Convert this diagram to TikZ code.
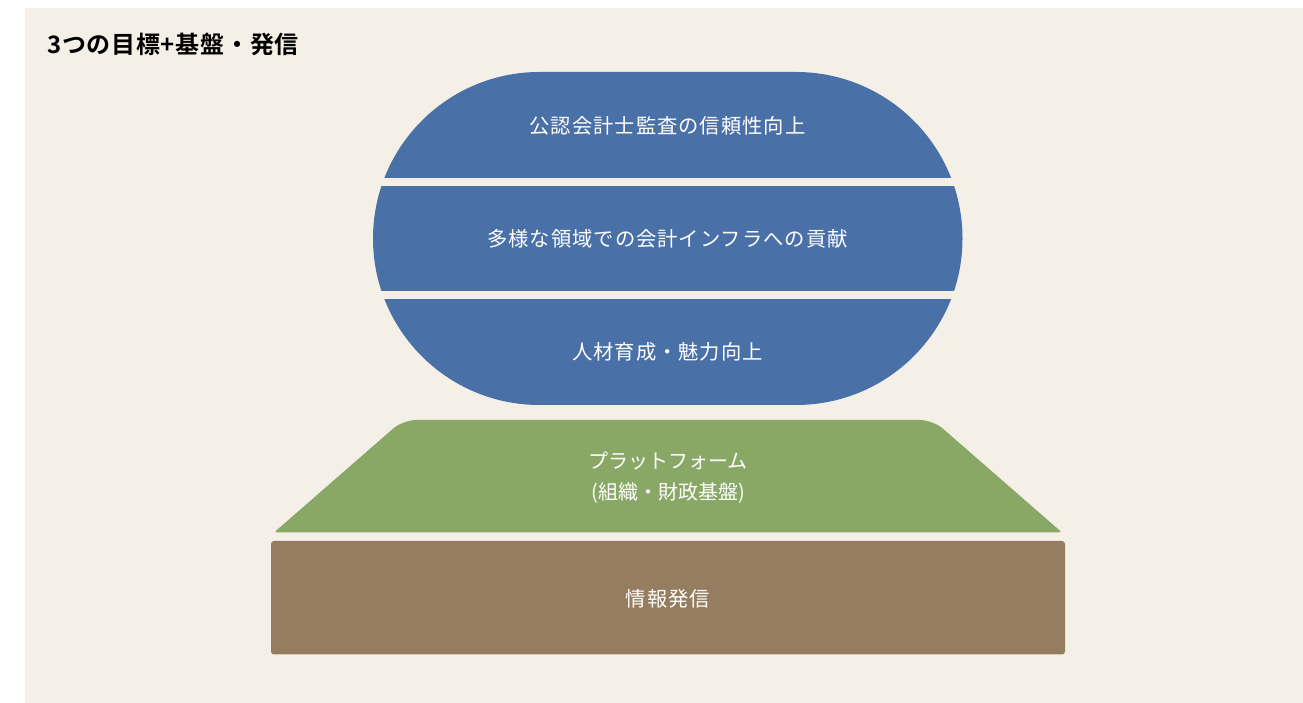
\documentclass[tikz,border=0pt]{standalone}
\usepackage{fontspec}
\newfontfamily\jp{Noto Sans CJK JP}
\newfontfamily\jpsp[LetterSpace=5]{Noto Sans CJK JP}
\newfontfamily\jpbold[LetterSpace=3]{Noto Sans CJK JP Bold}
\definecolor{panelbg}{RGB}{244,240,232}
\definecolor{goalblue}{RGB}{74,112,168}
\definecolor{platgreen}{RGB}{137,168,102}
\definecolor{infobrown}{RGB}{150,125,96}
\tikzset{
  banner/.style={text=white, font=\jpsp\fontsize{20.3}{24}\selectfont, inner sep=0pt, anchor=center},
  platlabel/.style={text=white, font=\jp\fontsize{20}{24}\selectfont, inner sep=0pt, anchor=center},
  heading/.style={text=black, font=\jpbold\fontsize{24}{28}\selectfont, inner sep=0pt, anchor=west}
}
\begin{document}
\begin{tikzpicture}[x=1pt,y=1pt]
  \useasboundingbox (0,0) rectangle (1303,703);
  \fill[white] (0,0) rectangle (1303,703);
  \fill[panelbg] (25,0) rectangle (1303,695);
  % title
  \node[heading] (title) at (47,659) {3つの目標+基盤・発信};
  % stadium of goals
  \fill[goalblue] (539.5,631) -- (796,631)
     arc[start angle=90, end angle=-90, radius=166.5]
     -- (539.5,298)
     arc[start angle=270, end angle=90, radius=166.5] -- cycle;
  \fill[panelbg] (360,517) rectangle (980,525);
  \fill[panelbg] (360,404.3) rectangle (980,412.3);
  \node[banner] (g1) at (667.5,577) {公認会計士監査の信頼性向上};
  \node[banner] (g2) at (667.5,464) {多様な領域での会計インフラへの貢献};
  \node[banner] (g3) at (667.5,351) {人材育成・魅力向上};
  % platform trapezoid
  \fill[platgreen, rounded corners=3pt] (274,170.5) -- (1062,170.5)
     [rounded corners=13pt] -- (933,283) -- (403,283) [rounded corners=3pt] -- cycle;
  \node[platlabel] (p1) at (668,242) {プラットフォーム};
  \node[platlabel] (p2) at (668,210) {(組織・財政基盤)};
  % information base
  \fill[infobrown, rounded corners=3pt] (271,48.5) rectangle (1065,162);
  \node[banner] (info) at (668,104) {情報発信};
\end{tikzpicture}
\end{document}
